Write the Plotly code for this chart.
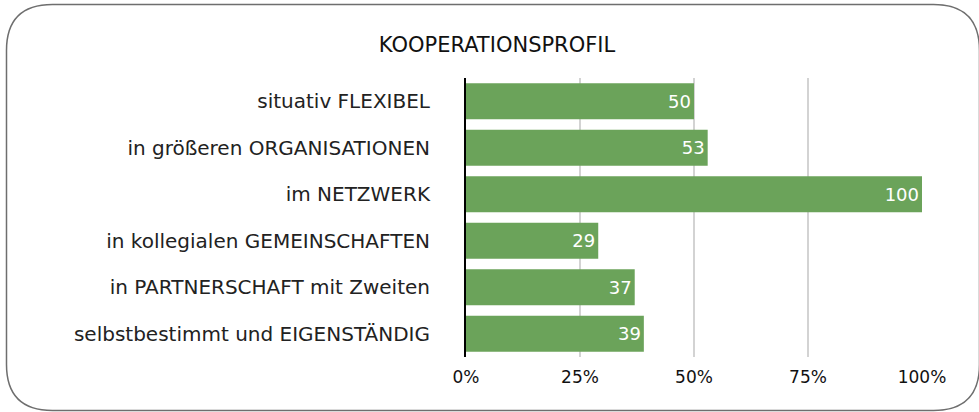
import plotly.graph_objects as go

categories = ["situativ FLEXIBEL", "in größeren ORGANISATIONEN", "im NETZWERK",
              "in kollegialen GEMEINSCHAFTEN", "in PARTNERSCHAFT mit Zweiten",
              "selbstbestimmt und EIGENSTÄNDIG"]
values = [50, 53, 100, 29, 37, 39]
tick_vals = [0, 25, 50, 75, 100]
tick_text = ["0%", "25%", "50%", "75%", "100%"]
title_text = "KOOPERATIONSPROFIL"

W, H = 979, 412
ML, MR, MT, MB = 466, 57, 78, 55
PW, PH = W - ML - MR, H - MT - MB

def px(x):
    return (x - ML) / PW

def py(y):
    return (H - MB - y) / PH

def rounded_path(x0, y0, x1, y1, r):
    pts = [
        ("M", [(x0 + r, y0)]),
        ("L", [(x1 - r, y0)]),
        ("Q", [(x1, y0), (x1, y0 + r)]),
        ("L", [(x1, y1 - r)]),
        ("Q", [(x1, y1), (x1 - r, y1)]),
        ("L", [(x0 + r, y1)]),
        ("Q", [(x0, y1), (x0, y1 - r)]),
        ("L", [(x0, y0 + r)]),
        ("Q", [(x0, y0), (x0 + r, y0)]),
    ]
    s = ""
    for cmd, ps in pts:
        s += cmd + " " + " ".join(f"{px(a):.5f},{py(b):.5f}" for a, b in ps) + " "
    return s + "Z"

font = "DejaVu Sans"

fig = go.Figure(go.Bar(
    x=values, y=categories, orientation="h",
    marker=dict(color="#6BA35A", line=dict(width=0)),
    text=[str(v) for v in values], textposition="inside",
    insidetextanchor="end",
    textfont=dict(color="white", size=18, family=font),
    cliponaxis=False,
))

fig.update_layout(
    width=W, height=H,
    margin=dict(l=ML, r=MR, t=MT, b=MB),
    paper_bgcolor="white", plot_bgcolor="white",
    bargap=0.23,
    showlegend=False,
    font=dict(family=font, color="#1a1a1a"),
    title=dict(text=title_text, x=497 / W, xanchor="center", y=1 - 45 / H, yanchor="middle",
               font=dict(size=21, family=font, color="#111111")),
    xaxis=dict(range=[0, 100], tickvals=tick_vals, ticktext=tick_text,
               showgrid=True, gridcolor="#D3D3D3", gridwidth=2,
               zeroline=False, showline=False, ticks="", ticklabelstandoff=8,
               tickfont=dict(size=17, family=font, color="#111111")),
    yaxis=dict(autorange="reversed", showline=True, linecolor="black", linewidth=2,
               ticks="", showgrid=False, ticklabelstandoff=30,
               tickfont=dict(size=20, family=font, color="#222222")),
    shapes=[dict(type="path", xref="paper", yref="paper",
                 path=rounded_path(6.5, 4.5, 979.5, 410.5, 46),
                 line=dict(color="#6E6E6E", width=1.5), fillcolor="rgba(0,0,0,0)",
                 layer="below")],
)

fig.write_html("out.html", config={"displayModeBar": False},
               post_script="document.body.style.margin='0';document.body.style.overflow='hidden';")
